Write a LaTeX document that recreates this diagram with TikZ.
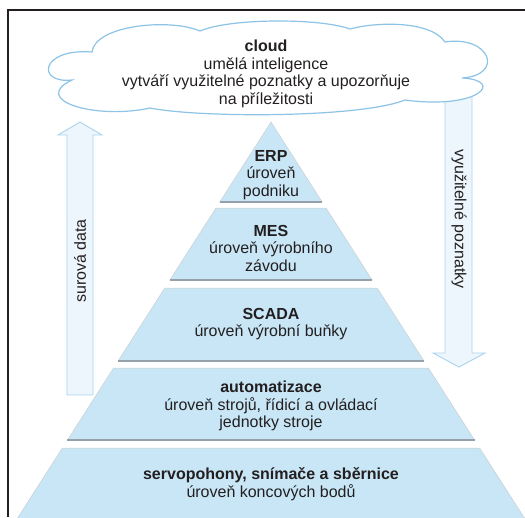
\documentclass[tikz,border=0pt]{standalone}
\usepackage{fontspec}
\setmainfont{Liberation Sans}
\definecolor{pyB}{RGB}{200,230,246}
\definecolor{pyE}{RGB}{150,160,168}
\definecolor{clE}{RGB}{140,195,230}
\definecolor{arF}{RGB}{237,246,252}
\definecolor{arE}{RGB}{170,210,238}
\definecolor{ink}{RGB}{35,31,32}
\newcommand{\AX}{271}
\newcommand{\AY}{122}
\newcommand{\SL}{0.64}

\begin{document}
\begin{tikzpicture}[x=1pt, y=-1pt,
    lvl/.style={fill=pyB, draw=pyE!50, line width=0.5pt},
    base/.style={draw=pyE, line width=1.2pt},
    txt/.style={text=ink, align=center, inner sep=0pt, font=\fontsize{16}{17.5}\selectfont},
    flow/.style={fill=arF, draw=arE, line width=0.9pt},
    frame/.style={draw=ink, line width=1.2pt},
    puff/.style={draw=clE, fill=white, line width=1.2pt},
  ]
  \useasboundingbox (0,0) rectangle (525,517);

  % one level of the pyramid: #1 top y, #2 bottom y
  \newcommand{\tier}[2]{%
    \path[lvl] ({\AX-\SL*(#1-\AY)},#1) -- ({\AX+\SL*(#1-\AY)},#1)
      -- ({\AX+\SL*(#2-\AY)},#2) -- ({\AX-\SL*(#2-\AY)},#2) -- cycle;
    \draw[base] ({\AX-\SL*(#2-\AY)},#2) -- ({\AX+\SL*(#2-\AY)},#2);}

  % frame: top and left only
  \draw[frame] (525,10) -- (8,10) -- (8,517);

  % hollow arrows, up on the left, down on the right
  \draw[flow] (67,395) -- (67,135) -- (58,135) -- (80,122) -- (102,135)
    -- (93,135) -- (93,395) -- cycle;
  \draw[flow] (445,80) -- (445,353) -- (433,353) -- (459,367) -- (485,353)
    -- (472,353) -- (472,80) -- cycle;
  \node[txt, rotate=90] (raw) at (80,261) {surová data};
  \node[txt, rotate=-90] (insight) at (459,219) {využitelné poznatky};

  % cloud, lobe by lobe clockwise from the left
  \draw[puff] (72,80) .. controls (36,84) and (40,48) .. (92,52)
    .. controls (95,25) and (170,18) .. (200,31)
    .. controls (230,18) and (320,18) .. (350,29)
    .. controls (375,22) and (430,20) .. (445,42)
    .. controls (490,35) and (505,75) .. (462,78)
    .. controls (505,80) and (480,110) .. (405,100)
    .. controls (360,118) and (200,118) .. (150,108)
    .. controls (95,120) and (30,100) .. cycle;
  \node[txt] (cloudtxt) at (266,74)
    {\textbf{cloud}\\umělá inteligence\\vytváří využitelné poznatky a upozorňuje\\na příležitosti};

  % pyramid, top to bottom
  \tier{122}{202} \tier{208}{280} \tier{288}{361} \tier{368}{440} \tier{448}{520}
  \node[txt] (erp) at (271,175) {\textbf{ERP}\\úroveň\\podniku};
  \node[txt] (mes) at (271,248) {\textbf{MES}\\úroveň výrobního\\závodu};
  \node[txt] (scada) at (271,324) {\textbf{SCADA}\\úroveň výrobní buňky};
  \node[txt] (auto) at (271,406) {\textbf{automatizace}\\úroveň strojů, řídicí a ovládací\\jednotky stroje};
  \node[txt] (servo) at (271,484) {\textbf{servopohony, snímače a sběrnice}\\úroveň koncových bodů};

\end{tikzpicture}
\end{document}
